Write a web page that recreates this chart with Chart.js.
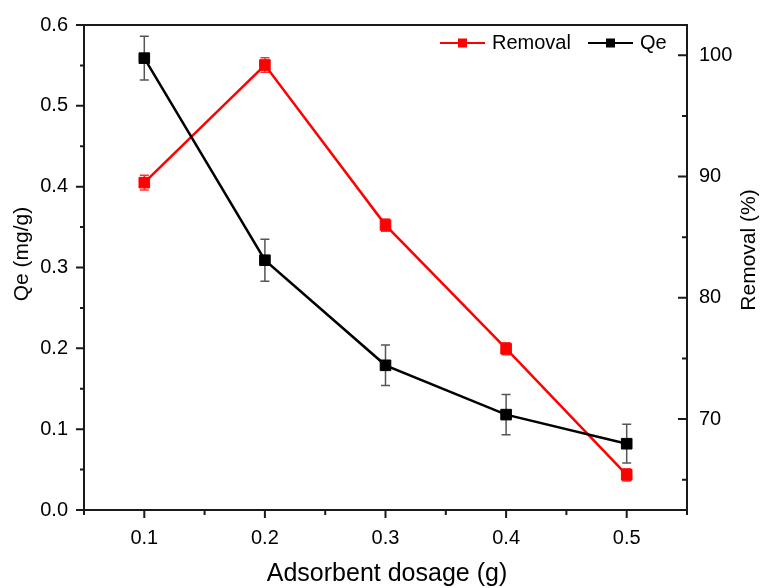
<!DOCTYPE html>
<html>
<head>
<meta charset="utf-8">
<script src="https://cdn.jsdelivr.net/npm/chart.js@4.4.0/dist/chart.umd.min.js"></script>
<style>
  html, body { margin: 0; padding: 0; background: #fff; }
  #wrap { width: 766px; height: 588px; }
</style>
</head>
<body>
<div id="wrap"><canvas id="chart"></canvas></div>
<script>
// dữ liệu
const dosage = [0.1, 0.2, 0.3, 0.4, 0.5];
const qeValues = [0.559, 0.309, 0.179, 0.118, 0.082];
const qeErrors = [0.027, 0.026, 0.025, 0.025, 0.024];
const removalValues = [89.5, 99.2, 86.0, 75.8, 65.4];
const removalErrors = [0.6, 0.6, 0.5, 0.5, 0.5];

const xTicks = [0.1, 0.2, 0.3, 0.4, 0.5];
const xMinor = [0.05, 0.15, 0.25, 0.35, 0.45, 0.55];
const qeTicks = [0, 0.1, 0.2, 0.3, 0.4, 0.5, 0.6];
const qeMinor = [0.05, 0.15, 0.25, 0.35, 0.45, 0.55];
const remTicks = [70, 80, 90, 100];
const remMinor = [65, 75, 85, 95];

const FONT = '"Liberation Sans", Arial, sans-serif';

function fixTicks(list) {
  return axis => { axis.ticks = list.map(v => ({ value: v })); };
}

// vẽ khung, vạch chia, thanh sai số, chú giải và tiêu đề trục
const originPlugin = {
  id: 'originStyle',
  beforeDatasetsDraw(chart) {
    const ctx = chart.ctx;
    const x = chart.scales.x;
    const pairs = [
      { vals: qeValues, errs: qeErrors, scale: chart.scales.y, color: '#555' },
      { vals: removalValues, errs: removalErrors, scale: chart.scales.y2, color: '#ff3030' }
    ];
    ctx.save();
    ctx.lineWidth = 1.5;
    pairs.forEach(p => {
      ctx.strokeStyle = p.color;
      dosage.forEach((d, i) => {
        const px = x.getPixelForValue(d);
        const top = p.scale.getPixelForValue(p.vals[i] + p.errs[i]);
        const bot = p.scale.getPixelForValue(p.vals[i] - p.errs[i]);
        ctx.beginPath();
        ctx.moveTo(px, top); ctx.lineTo(px, bot);
        ctx.moveTo(px - 4.5, top); ctx.lineTo(px + 4.5, top);
        ctx.moveTo(px - 4.5, bot); ctx.lineTo(px + 4.5, bot);
        ctx.stroke();
      });
    });
    ctx.restore();
  },
  afterDraw(chart) {
    const ctx = chart.ctx;
    const a = chart.chartArea;
    const x = chart.scales.x, y = chart.scales.y, y2 = chart.scales.y2;
    ctx.save();
    ctx.strokeStyle = '#1a1a1a';
    ctx.lineWidth = 2;
    ctx.strokeRect(a.left, a.top, a.right - a.left, a.bottom - a.top);

    ctx.beginPath();
    // trục x: vạch hướng ra ngoài
    xTicks.forEach(v => { const p = x.getPixelForValue(v); ctx.moveTo(p, a.bottom); ctx.lineTo(p, a.bottom + 8); });
    xMinor.forEach(v => { const p = x.getPixelForValue(v); ctx.moveTo(p, a.bottom); ctx.lineTo(p, a.bottom + 5); });
    // trục Qe
    qeTicks.forEach(v => { const p = y.getPixelForValue(v); ctx.moveTo(a.left, p); ctx.lineTo(a.left - 8, p); });
    qeMinor.forEach(v => { const p = y.getPixelForValue(v); ctx.moveTo(a.left, p); ctx.lineTo(a.left - 4, p); });
    // trục Removal: vạch hướng vào trong
    remTicks.forEach(v => { const p = y2.getPixelForValue(v); ctx.moveTo(a.right, p); ctx.lineTo(a.right - 9, p); });
    remMinor.forEach(v => { const p = y2.getPixelForValue(v); ctx.moveTo(a.right, p); ctx.lineTo(a.right - 5, p); });
    ctx.stroke();

    // chú giải
    const items = [
      { label: chart.data.datasets[1].label, color: '#ff0000', x0: 440 },
      { label: chart.data.datasets[0].label, color: '#000000', x0: 588 }
    ];
    const ly = 43;
    items.forEach(it => {
      ctx.strokeStyle = it.color;
      ctx.fillStyle = it.color;
      ctx.lineWidth = 2;
      ctx.beginPath();
      ctx.moveTo(it.x0, ly); ctx.lineTo(it.x0 + 45, ly);
      ctx.stroke();
      ctx.fillRect(it.x0 + 18, ly - 4.5, 9, 9);
      ctx.fillStyle = '#000';
      ctx.font = '20px ' + FONT;
      ctx.textAlign = 'left';
      ctx.textBaseline = 'middle';
      ctx.fillText(it.label, it.x0 + 52, ly);
    });

    // tiêu đề trục
    ctx.fillStyle = '#000';
    ctx.textAlign = 'center';
    ctx.textBaseline = 'middle';
    ctx.font = '25px ' + FONT;
    ctx.fillText('Adsorbent dosage (g)', 387, 574);
    ctx.font = '21px ' + FONT;
    ctx.save();
    ctx.translate(22, 254);
    ctx.rotate(-Math.PI / 2);
    ctx.fillText('Qe (mg/g)', 0, 0);
    ctx.restore();
    ctx.save();
    ctx.translate(749, 250);
    ctx.rotate(-Math.PI / 2);
    ctx.fillText('Removal (%)', 0, 0);
    ctx.restore();
    ctx.restore();
  }
};

const tickFont = { family: FONT, size: 20 };

new Chart(document.getElementById('chart'), {
  type: 'line',
  data: {
    datasets: [
      {
        label: 'Qe',
        data: dosage.map((d, i) => ({ x: d, y: qeValues[i] })),
        yAxisID: 'y',
        borderColor: '#000',
        backgroundColor: '#000',
        borderWidth: 2.5,
        pointStyle: 'rect',
        pointRadius: 7.5,
        pointBorderWidth: 1,
        tension: 0,
        order: 0
      },
      {
        label: 'Removal',
        data: dosage.map((d, i) => ({ x: d, y: removalValues[i] })),
        yAxisID: 'y2',
        borderColor: '#ff0000',
        backgroundColor: '#ff0000',
        borderWidth: 2.5,
        pointStyle: 'rect',
        pointRadius: 7.5,
        pointBorderWidth: 1,
        tension: 0,
        order: 1
      }
    ]
  },
  options: {
    responsive: true,
    maintainAspectRatio: false,
    animation: false,
    layout: { padding: { top: 25, left: 0, right: 0, bottom: 0 } },
    plugins: { legend: { display: false }, tooltip: { enabled: false } },
    scales: {
      x: {
        type: 'linear',
        min: 0.05,
        max: 0.55,
        afterBuildTicks: fixTicks(xTicks),
        afterFit: s => { s.height = 78; },
        grid: { display: false },
        border: { display: false },
        ticks: {
          font: tickFont, color: '#000', padding: 8, autoSkip: false, maxRotation: 0,
          callback: v => v.toFixed(1)
        }
      },
      y: {
        position: 'left',
        min: 0,
        max: 0.6,
        afterBuildTicks: fixTicks(qeTicks),
        afterFit: s => { s.width = 84; },
        grid: { display: false },
        border: { display: false },
        ticks: {
          font: tickFont, color: '#000', padding: 8, autoSkip: false,
          callback: v => v.toFixed(1)
        }
      },
      y2: {
        position: 'right',
        min: 62.5,
        max: 102.5,
        afterBuildTicks: fixTicks(remTicks),
        afterFit: s => { s.width = 79; },
        grid: { display: false },
        border: { display: false },
        ticks: {
          font: tickFont, color: '#000', padding: 4, autoSkip: false,
          callback: v => String(v)
        }
      }
    }
  },
  plugins: [originPlugin]
});
</script>
</body>
</html>
